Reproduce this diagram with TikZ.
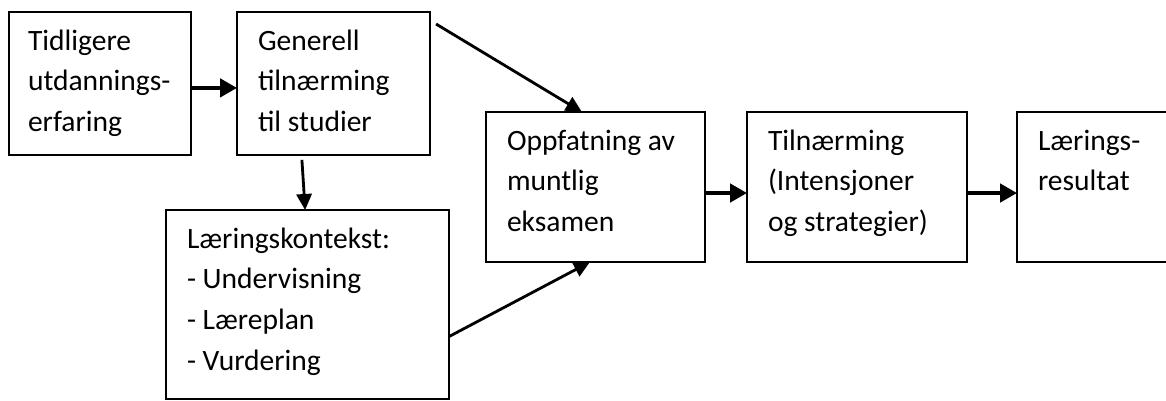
\documentclass[tikz,border=0pt]{standalone}
\usepackage{fontspec}
\setmainfont{Carlito}
\usetikzlibrary{arrows.meta}
\newcommand{\boks}[3]{\parbox[c][#2][t]{#1}{\raggedright\strut #3}}

\begin{document}
\begin{tikzpicture}[x=0.025cm, y=-0.025cm,
        blokk/.style={draw, line width=1.4pt, anchor=north west, inner xsep=0.525cm, inner ysep=0.24cm, outer sep=0pt, font=\fontsize{21}{29}\selectfont},
        pil/.style={-{Triangle[length=0.42cm, width=0.45cm]}, line width=2.8pt},
        skrapil/.style={-{Triangle[length=0.4cm, width=0.38cm]}, line width=2pt}]
        \useasboundingbox (0,0) rectangle (1166,401);
        \clip (0,0) rectangle (1166,401);
        
        \node (tidligere) at (9, 12) [blokk, inner xsep=0.475cm] {\boks{3.6cm}{3.095cm}{Tidligere\\utdannings-\\erfaring}};
        \node (generell) at (237, 12) [blokk] {\boks{3.775cm}{3.095cm}{Generell\\tilnærming\\til studier}};
        \node (kontekst) at (166, 210) [blokk] {\boks{6.025cm}{4.245cm}{Læringskontekst:\\- Undervisning\\- Læreplan\\- Vurdering}};
        
        \node (oppfatning) at (486, 112) [blokk] {\boks{4.425cm}{3.27cm}{Oppfatning av\\muntlig\\eksamen}};
        \node (tilnaerming) at (747, 112) [blokk] {\boks{4.45cm}{3.27cm}{Tilnærming\\(Intensjoner\\og strategier)}};
        \node (resultat) at (1017, 112) [blokk] {\boks{2.95cm}{3.27cm}{Lærings-\\resultat}};
        
        \draw[pil] ([yshift=-0.11cm]tidligere.east) -- ([yshift=-0.11cm]generell.west);
        \draw[skrapil] ([xshift=-0.79cm, yshift=-0.12cm]generell.south) -- ([xshift=-0.06cm]kontekst.north);
        \draw[skrapil] ([xshift=0.15cm, yshift=-0.3cm]generell.north east) -- ([xshift=-0.34cm]oppfatning.north);
        \draw[skrapil] ([yshift=-0.8cm]kontekst.east) -- ([xshift=-0.14cm]oppfatning.south);
        \draw[pil] ([yshift=-0.15cm]oppfatning.east) -- ([yshift=-0.15cm]tilnaerming.west);
        \draw[pil] ([yshift=-0.15cm]tilnaerming.east) -- ([yshift=-0.15cm]resultat.west);
    \end{tikzpicture}
\end{document}
